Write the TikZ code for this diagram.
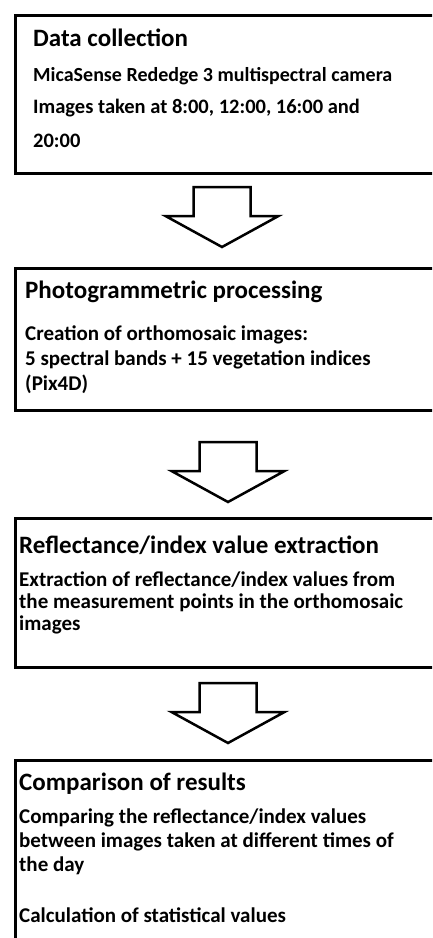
\documentclass[tikz,border=0pt]{standalone}
\usepackage{fontspec}
\setmainfont{Carlito}
\usetikzlibrary{calc}

% hollow block arrow pointing down, #1 = middle of its top edge
\newcommand{\fatarrow}[1]{%
  \draw[fat] ($(#1)+(-28.5,0)$) -- ++(57,0) -- ++(0,29) -- ++(28,0)
    -- ($(#1)+(0,60)$) -- ($(#1)+(-56.5,29)$) -- ++(28,0) -- cycle;}
% lines of a text block, the first one on the node's baseline
\newcommand{\lines}[1]{\begin{tabular}[t]{@{}l@{}}#1\end{tabular}}

\begin{document}
\begin{tikzpicture}[x=1pt, y=-1pt,
    stepbox/.style = {draw, line width = 3pt, rectangle, anchor = north west, minimum width = 424pt, inner sep = 0pt},
    fat/.style = {draw, line width = 2.5pt, line join = miter, fill = white},
    head/.style = {anchor = base west, inner sep = 0pt, font = \fontsize{25}{30}\selectfont\bfseries},
    body/.style = {anchor = base west, inner sep = 0pt, font = \fontsize{21}{24}\selectfont\bfseries}]
  \useasboundingbox (0,0) rectangle (432,938);
  \clip (0,0) rectangle (432,938);

  % frames
  \node[stepbox, minimum height = 158pt] (collect) at (14,14) {};
  \node[stepbox, minimum height = 142pt] (process) at (14,267) {};
  \node[stepbox, minimum height = 149pt] (extract) at (14,517) {};
  \node[stepbox, minimum height = 240pt] (compare) at (14,759) {};

  % arrows between the steps
  \coordinate (a1) at (222,187);
  \coordinate (a2) at (228,442);
  \coordinate (a3) at (228,683);
  \fatarrow{a1}
  \fatarrow{a2}
  \fatarrow{a3}

  % texts
  \node[head] (t1) at (33,46) {Data collection};
  \node[body, font = \fontsize{20}{24}\selectfont\bfseries] (b1a) at (33,81) {MicaSense Rededge 3 multispectral camera};
  \node[body, font = \fontsize{20.5}{34}\selectfont\bfseries] (b1b) at (33,113) {\lines{Images taken at 8:00, 12:00, 16:00 and\\20:00}};

  \node[head] (t2) at (25,298) {Photogrammetric processing};
  \node[body, font = \fontsize{21}{25}\selectfont\bfseries] (b2) at (25,340) {\lines{Creation of orthomosaic images:\\5 spectral bands + 15 vegetation indices\\(Pix4D)}};

  \node[head] (t3) at (19,553) {Reflectance/index value extraction};
  \node[body, font = \fontsize{21}{22}\selectfont\bfseries] (b3) at (19,586) {\lines{Extraction of reflectance/index values from\\the measurement points in the orthomosaic\\images}};

  \node[head] (t4) at (19,790) {Comparison of results};
  \node[body] (b4a) at (19,823) {\lines{Comparing the reflectance/index values\\between images taken at different times of\\the day}};
  \node[body] (b4b) at (19,922) {Calculation of statistical values};
\end{tikzpicture}
\end{document}
